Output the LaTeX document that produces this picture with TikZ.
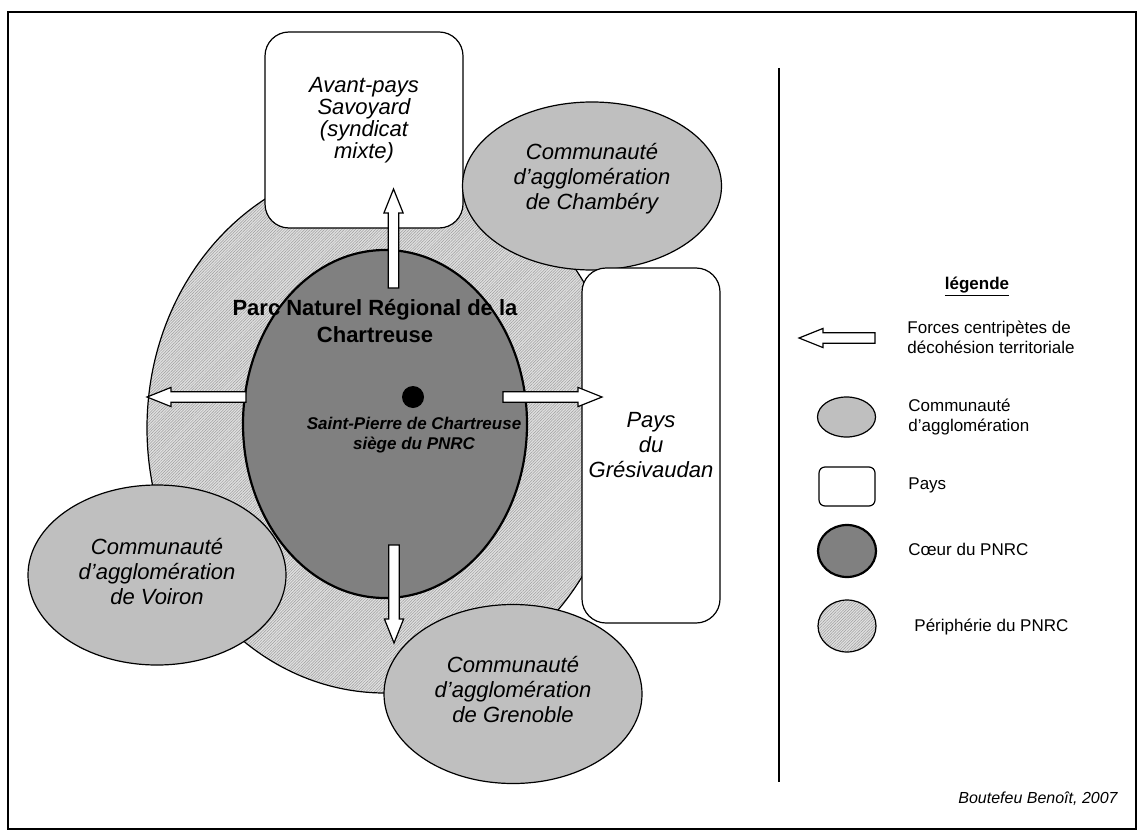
\documentclass[tikz,border=0pt]{standalone}
\usepackage{fontspec}
\setmainfont{Liberation Sans}
\usetikzlibrary{shapes.geometric}
\usetikzlibrary{patterns.meta}
\newcommand{\txtgrand}{\fontsize{11}{12.5}\selectfont}
\newcommand{\txtpetit}{\fontsize{8.5}{10}\selectfont}
\tikzset{agglo/.style={ellipse, draw, line width=0.6pt, fill=black!25, inner sep=0pt}}
\tikzset{aggtxt/.style={align=center, inner sep=0pt, font=\txtgrand\itshape}}
\tikzset{paysbox/.style={rectangle, rounded corners=12pt, draw, line width=0.6pt, fill=white, inner sep=0pt, align=center, font=\txtgrand\itshape}}
\tikzset{coeur/.style={ellipse, draw, line width=1.1pt, fill=black!50, inner sep=0pt}}
\tikzset{peri/.style={ellipse, draw, line width=0.6pt, inner sep=0pt, preaction={fill=black!12}, pattern={Lines[angle=45,distance=1pt,line width=0.25pt]}, pattern color=black!38}}
\tikzset{legtxt/.style={anchor=west, inner sep=0pt, align=left, font=\txtpetit}}
\tikzset{pics/fleche/.style={code={
  \draw[fill=white, line width=0.6pt, line join=miter]
    (0pt,-2.6pt) -- (#1-12pt,-2.6pt) -- (#1-12pt,-4.8pt) -- (#1,0pt)
    -- (#1-12pt,4.8pt) -- (#1-12pt,2.6pt) -- (0pt,2.6pt) -- cycle;
}}}

\begin{document}
\begin{tikzpicture}[x=0.5pt,y=-0.5pt]
\useasboundingbox (0,0) rectangle (1143,834);
\draw[line width=0.6pt] (8,12) rectangle (1136,829);

% peripherie et territoires voisins
\node[peri, minimum width=238pt, minimum height=265pt] (peri) at (385,428) {};
\node[paysbox, minimum width=99pt, minimum height=98pt] (avant) at (364,130) {};
\node[font=\fontsize{11}{11}\selectfont\itshape, align=center, inner sep=0pt] (avanttxt) at (364,120) {Avant-pays\\Savoyard\\(syndicat\\mixte)};
\node[agglo, minimum width=129.5pt, minimum height=84pt] (chambery) at (592,186) {};
\node[aggtxt] (chambtxt) at (592,179) {Communauté\\d’agglomération\\de Chambéry};
\node[paysbox, minimum width=69pt, minimum height=177.5pt] (gresivaudan) at (651,445.5) {Pays\\du\\Grésivaudan};
\node[coeur, minimum width=142pt, minimum height=174pt] (coeur) at (385,424) {};
\node[agglo, minimum width=129pt, minimum height=90pt] (voiron) at (157,575) {};
\node[aggtxt] (voirontxt) at (157,572) {Communauté\\d’agglomération\\de Voiron};
\node[agglo, minimum width=129pt, minimum height=89.5pt] (grenoble) at (513,694) {};
\node[aggtxt] (grenobletxt) at (513,690) {Communauté\\d’agglomération\\de Grenoble};

% forces centripetes
\pic[rotate=90] at (393.5,288) {fleche=49.5pt};
\pic[rotate=180] at (246,397) {fleche=49.5pt};
\pic at (503,397) {fleche=49.5pt};
\pic[rotate=-90] at (394,545) {fleche=49pt};

\node[font=\fontsize{11}{13.5}\selectfont\bfseries, align=center] (titre) at (375,321) {Parc Naturel Régional de la\\Chartreuse};
\node[circle, fill=black, inner sep=0pt, minimum size=11pt] (stpierre) at (413,397) {};
\node[font=\txtpetit\bfseries\itshape, align=center] (siege) at (414,435) {Saint-Pierre de Chartreuse\\siège du PNRC};

% legende
\draw[line width=0.6pt] (779,68) -- (779,782);
\node[font=\txtpetit\bfseries] (legende) at (977,287) {\underline{légende}};
\pic[rotate=180] at (875,338) {fleche=38pt};
\node[legtxt] (legforces) at (907,337.5) {Forces centripètes de\\décohésion territoriale};
\node[agglo, minimum width=29pt, minimum height=20pt] (legagglo) at (846.5,417) {};
\node[legtxt] (legaggtxt) at (908,417) {Communauté\\d’agglomération};
\node[paysbox, rounded corners=3pt, minimum width=28pt, minimum height=19.5pt] (legpays) at (847,486.5) {};
\node[legtxt] (legpaystxt) at (908,485) {Pays};
\node[coeur, minimum width=29pt, minimum height=26pt] (legcoeur) at (847,551) {};
\node[legtxt] (legcoeurtxt) at (908,549) {Cœur du PNRC};
\node[peri, minimum width=29pt, minimum height=26pt] (legperi) at (847,626) {};
\node[legtxt] (legperitxt) at (914,627) {Périphérie du PNRC};

\node[anchor=east, inner sep=0pt, font=\fontsize{8}{10}\selectfont\itshape] (auteur) at (1118,799) {Boutefeu Benoît, 2007};
\end{tikzpicture}
\end{document}
